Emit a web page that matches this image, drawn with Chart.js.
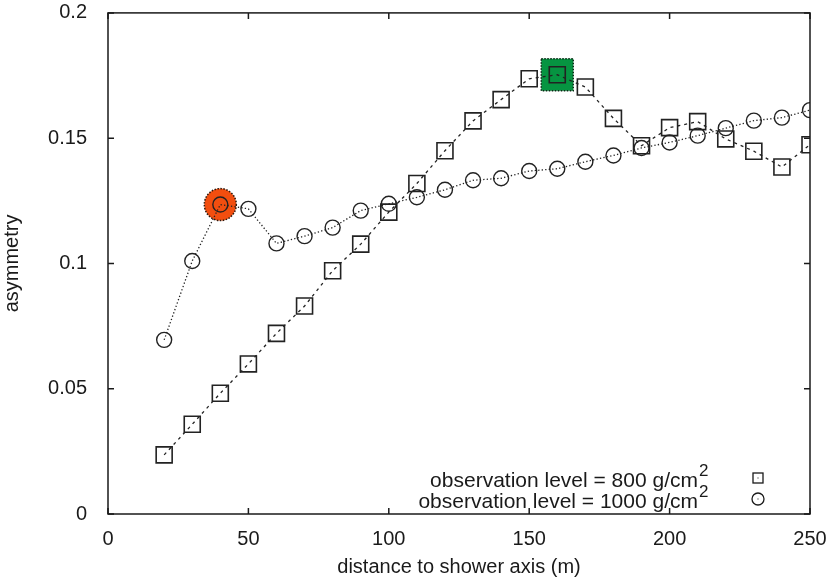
<!DOCTYPE html>
<html><head><meta charset="utf-8">
<script src="https://cdn.jsdelivr.net/npm/chart.js@4/dist/chart.umd.min.js"></script>
<style>html,body{margin:0;padding:0;background:#fff}#wrap{width:830px;height:579px}</style>
</head><body><div id="wrap"><canvas id="c" width="830" height="579"></canvas></div>
<script>
const distances = [20,30,40,50,60,70,80,90,100,110,120,130,140,150,160,170,180,190,200,210,220,230,240,250];
const asym800 = [0.0236,0.0358,0.0482,0.0599,0.0721,0.083,0.0971,0.1077,0.1205,0.1319,0.145,0.1569,0.1654,0.1737,0.1753,0.1704,0.1579,0.147,0.1542,0.1566,0.1497,0.1448,0.1385,0.1474];
const asym1000 = [0.0695,0.101,0.1235,0.1218,0.108,0.1109,0.1143,0.1211,0.1238,0.1264,0.1294,0.1332,0.134,0.1369,0.1378,0.1406,0.1431,0.1461,0.1483,0.151,0.154,0.157,0.1582,0.1612];
const xTickLabels = ['0','50','100','150','200','250'];
const yTickLabels = ['0','0.05','0.1','0.15','0.2'];
const seriesLabels = ['observation level = 800 g/cm', 'observation level = 1000 g/cm'];
const highlight800Index = 14;   // 160 m
const highlight1000Index = 2;   // 40 m

const FONT = 'Liberation Sans, Arial, Helvetica, sans-serif';
const INK = '#1a1a1a';

const frameAndExtras = {
  id: 'frameAndExtras',
  beforeDatasetsDraw(chart) {
    const ctx = chart.ctx, xs = chart.scales.x, ys = chart.scales.y;
    let px = xs.getPixelForValue(distances[highlight1000Index]);
    let py = ys.getPixelForValue(asym1000[highlight1000Index]);
    ctx.save();
    ctx.beginPath(); ctx.arc(px, py, 16, 0, Math.PI*2);
    ctx.fillStyle = '#f24e0f'; ctx.fill();
    ctx.setLineDash([1.5,1.5]); ctx.lineWidth = 1.5; ctx.strokeStyle = '#2a1a10'; ctx.stroke();
    px = xs.getPixelForValue(distances[highlight800Index]);
    py = ys.getPixelForValue(asym800[highlight800Index]);
    ctx.beginPath(); ctx.rect(px-16, py-16, 32, 32);
    ctx.fillStyle = '#069441'; ctx.fill();
    ctx.strokeStyle = '#0a2a15'; ctx.stroke();
    ctx.restore();
  },
  afterDraw(chart) {
    const ctx = chart.ctx, xs = chart.scales.x, ys = chart.scales.y, a = chart.chartArea;
    ctx.save();
    ctx.strokeStyle = INK; ctx.lineWidth = 1.5; ctx.setLineDash([]);
    ctx.strokeRect(a.left, a.top, a.right - a.left, a.bottom - a.top);
    const tl = 6;
    ctx.beginPath();
    xs.ticks.forEach(t => {
      const x = xs.getPixelForValue(t.value);
      ctx.moveTo(x, a.bottom); ctx.lineTo(x, a.bottom - tl);
      ctx.moveTo(x, a.top); ctx.lineTo(x, a.top + tl);
    });
    ys.ticks.forEach(t => {
      const y = ys.getPixelForValue(t.value);
      ctx.moveTo(a.left, y); ctx.lineTo(a.left + tl, y);
      ctx.moveTo(a.right, y); ctx.lineTo(a.right - tl, y);
    });
    ctx.stroke();
    // legend
    ctx.fillStyle = INK;
    ctx.textBaseline = 'alphabetic';
    const textRight = 698;
    const baselines = [487, 508];
    seriesLabels.forEach((lab, i) => {
      ctx.font = '21px ' + FONT;
      ctx.textAlign = 'right';
      ctx.fillText(lab, textRight, baselines[i]);
      ctx.font = '17px ' + FONT;
      ctx.textAlign = 'left';
      ctx.fillText('2', textRight + 1, baselines[i] - 11);
    });
    ctx.lineWidth = 1.3; ctx.strokeStyle = INK;
    ctx.strokeRect(753, 473, 10, 10);
    ctx.beginPath(); ctx.arc(758, 499, 6, 0, Math.PI*2); ctx.stroke();
    ctx.fillRect(757.5, 477.5, 1, 1);
    ctx.fillRect(757.5, 498.5, 1, 1);
    ctx.restore();
  }
};

new Chart(document.getElementById('c'), {
  type: 'line',
  data: {
    datasets: [
      {
        label: seriesLabels[0],
        data: distances.map((d, i) => ({x: d, y: asym800[i]})),
        borderColor: '#222', borderWidth: 1.3, borderDash: [3, 4],
        pointStyle: 'rect', pointRadius: 11.3, pointBorderWidth: 1.6,
        pointBorderColor: '#222', pointBackgroundColor: 'rgba(0,0,0,0)',
        fill: false, tension: 0
      },
      {
        label: seriesLabels[1],
        data: distances.map((d, i) => ({x: d, y: asym1000[i]})),
        borderColor: '#222', borderWidth: 1.3, borderDash: [1.3, 2.2],
        pointStyle: 'circle', pointRadius: 7.5, pointBorderWidth: 1.4,
        pointBorderColor: '#222', pointBackgroundColor: 'rgba(0,0,0,0)',
        fill: false, tension: 0
      }
    ]
  },
  options: {
    responsive: false, animation: false, devicePixelRatio: 1,
    layout: { padding: { left: 0, right: 20, top: 8, bottom: 0 } },
    plugins: { legend: { display: false }, tooltip: { enabled: false } },
    scales: {
      x: {
        type: 'linear', min: 0, max: 250,
        afterFit(s) { s.height = 65; s.paddingLeft = 0; s.paddingRight = 0; },
        afterBuildTicks(s) { s.ticks = xTickLabels.map(v => ({ value: Number(v) })); },
        ticks: { callback: (v, i) => xTickLabels[i], color: INK, font: { family: FONT, size: 20 }, padding: 5, maxRotation: 0, autoSkip: false },
        grid: { display: false }, border: { display: false },
        title: { display: true, text: 'distance to shower axis (m)', color: INK, font: { family: FONT, size: 20 }, padding: { top: 0, bottom: 0 } }
      },
      y: {
        type: 'linear', min: 0, max: 0.2,
        afterFit(s) { s.width = 108; s.paddingTop = 0; s.paddingBottom = 0; },
        afterBuildTicks(s) { s.ticks = yTickLabels.map(v => ({ value: Number(v) })); },
        ticks: { callback: (v, i) => yTickLabels[i], color: INK, font: { family: FONT, size: 20 }, padding: 13, autoSkip: false },
        grid: { display: false }, border: { display: false },
        title: { display: true, text: 'asymmetry', color: INK, font: { family: FONT, size: 20 }, padding: { top: 0, bottom: 0 } }
      }
    }
  },
  plugins: [frameAndExtras]
});
</script></body></html>
